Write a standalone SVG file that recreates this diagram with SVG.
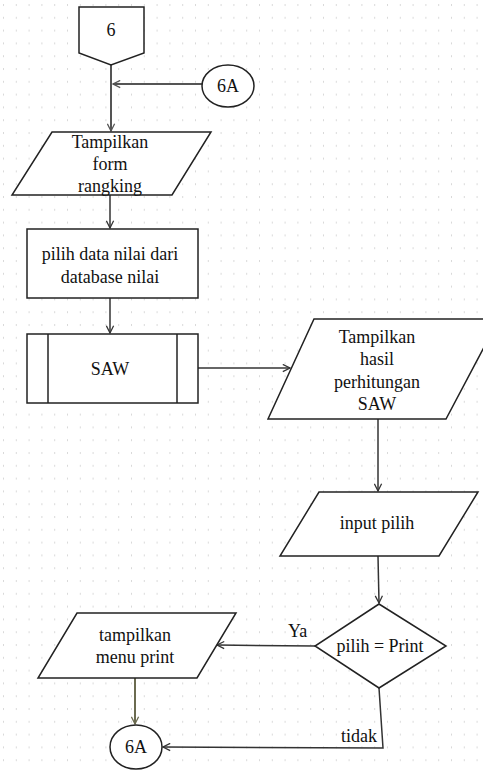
<svg xmlns="http://www.w3.org/2000/svg" width="483" height="771" viewBox="0 0 483 771">
<defs>
<pattern id="grid" x="3" y="4" width="12.8" height="12.8" patternUnits="userSpaceOnUse">
<rect x="0" y="0" width="1" height="2" fill="#d9d9d9"/>
</pattern>
<marker id="arrG" viewBox="0 0 10 10" refX="9" refY="5" markerWidth="9" markerHeight="9" markerUnits="userSpaceOnUse" orient="auto">
<path d="M1,1 L9,5 L1,9" fill="none" stroke="#555" stroke-width="1.4"/>
</marker>
<marker id="arrO" viewBox="0 0 10 10" refX="9" refY="5" markerWidth="9" markerHeight="9" markerUnits="userSpaceOnUse" orient="auto">
<path d="M1,1 L9,5 L1,9" fill="none" stroke="#6b6b50" stroke-width="1.4"/>
</marker>
<marker id="arrD" viewBox="0 0 10 10" refX="9" refY="5" markerWidth="9" markerHeight="9" markerUnits="userSpaceOnUse" orient="auto">
<path d="M1,1 L9,5 L1,9" fill="none" stroke="#333" stroke-width="1.4"/>
</marker>
</defs>
<style>
.shape{fill:#fff;stroke:#222;stroke-width:1.5}
text{font-family:'Liberation Serif','DejaVu Serif',serif;font-size:18px;fill:#111}
.t{text-anchor:middle}
.c{fill:none;stroke:#333;stroke-width:1.5}
.cg{fill:none;stroke:#555;stroke-width:2}
.co{fill:none;stroke:#6b6b50;stroke-width:2}
</style>
<rect width="483" height="771" fill="#fff"/>
<rect width="483" height="771" fill="url(#grid)"/>

<g id="connectors">
<path class="cg" d="M111,65 L111,131" marker-end="url(#arrG)"/>
<path class="cg" d="M202,84 L113,84" marker-end="url(#arrG)"/>
<path class="c" d="M110,195 L110,228" marker-end="url(#arrD)"/>
<path class="c" d="M110,298 L110,333" marker-end="url(#arrD)"/>
<path class="c" d="M198,368 L290,368" marker-end="url(#arrD)"/>
<path class="c" d="M378,419 L378,491" marker-end="url(#arrD)"/>
<path class="c" d="M378,556 L379,603" marker-end="url(#arrD)"/>
<path class="c" d="M315,646 L217,645" marker-end="url(#arrD)"/>
<path class="co" d="M135,678 L135,724" marker-end="url(#arrO)"/>
<path class="c" d="M379,688 L383,748 L163,747" marker-end="url(#arrD)"/>
<text font-family="Liberation Serif, serif" x="288" y="637">Ya</text>
<text font-family="Liberation Serif, serif" x="341" y="742">tidak</text>
</g>

<g id="offpage6">
<path class="shape" d="M79,7 L144,7 L144,53 L111,65 L79,53 Z"/>
<text class="t" font-family="Liberation Serif, serif" x="111" y="36">6</text>
</g>

<g id="conn6A_top">
<ellipse class="shape" cx="228" cy="86" rx="26" ry="21"/>
<text class="t" font-family="Liberation Serif, serif" x="228" y="92">6A</text>
</g>

<g id="tampilkan_form">
<path class="shape" d="M52,132 L211,132 L172,195 L12,195 Z"/>
<text class="t" font-family="Liberation Serif, serif" x="110" y="148">Tampilkan</text>
<text class="t" font-family="Liberation Serif, serif" x="110" y="170">form</text>
<text class="t" font-family="Liberation Serif, serif" x="110" y="192">rangking</text>
</g>

<g id="pilih_data">
<rect class="shape" x="27" y="229" width="171" height="69"/>
<text class="t" font-family="Liberation Serif, serif" x="110" y="260">pilih data nilai dari</text>
<text class="t" font-family="Liberation Serif, serif" x="110" y="283">database nilai</text>
</g>

<g id="saw">
<rect class="shape" x="27" y="334" width="171" height="69"/>
<line class="shape" x1="48" y1="334" x2="48" y2="403"/>
<line class="shape" x1="177" y1="334" x2="177" y2="403"/>
<text class="t" font-family="Liberation Serif, serif" x="110" y="375">SAW</text>
</g>

<g id="tampilkan_hasil">
<path class="shape" d="M314,319 L499,319 L446,419 L268,419 Z"/>
<text class="t" font-family="Liberation Serif, serif" x="377" y="343">Tampilkan</text>
<text class="t" font-family="Liberation Serif, serif" x="377" y="365">hasil</text>
<text class="t" font-family="Liberation Serif, serif" x="377" y="388">perhitungan</text>
<text class="t" font-family="Liberation Serif, serif" x="377" y="410">SAW</text>
</g>

<g id="input_pilih">
<path class="shape" d="M319,492 L478,492 L439,556 L280,556 Z"/>
<text class="t" font-family="Liberation Serif, serif" x="377" y="529">input pilih</text>
</g>

<g id="decision">
<path class="shape" d="M379,604 L446,646 L379,688 L315,646 Z"/>
<text class="t" font-family="Liberation Serif, serif" x="380" y="652">pilih = Print</text>
</g>

<g id="tampilkan_menu">
<path class="shape" d="M77,613 L236,613 L197,678 L38,678 Z"/>
<text class="t" font-family="Liberation Serif, serif" x="135" y="641">tampilkan</text>
<text class="t" font-family="Liberation Serif, serif" x="135" y="663">menu print</text>
</g>

<g id="conn6A_bottom">
<ellipse class="shape" cx="136" cy="747" rx="26" ry="22"/>
<text class="t" font-family="Liberation Serif, serif" x="136" y="753">6A</text>
</g>
</svg>
